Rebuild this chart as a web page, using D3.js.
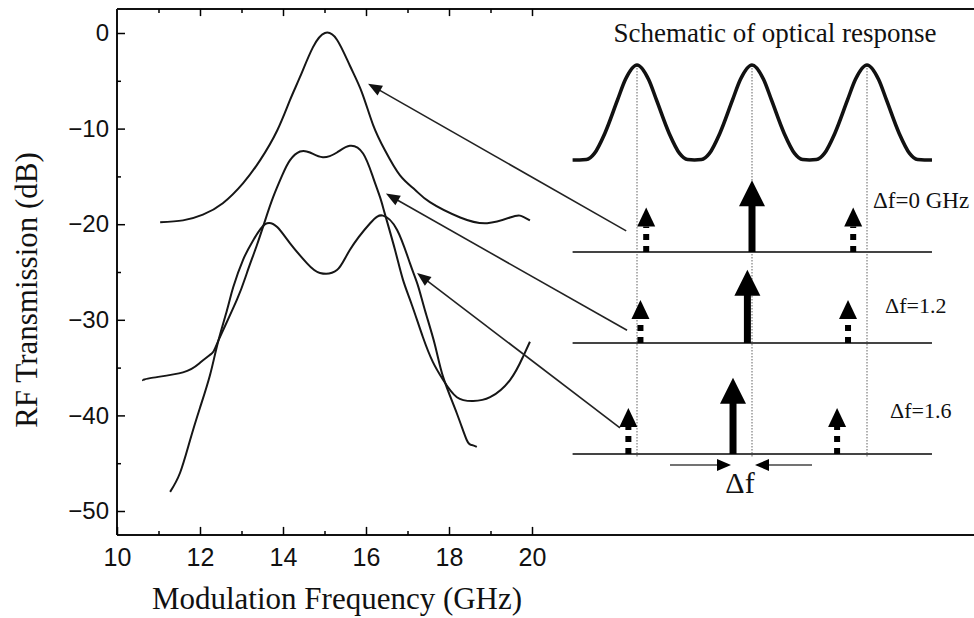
<!DOCTYPE html>
<html>
<head>
<meta charset="utf-8">
<script src="https://cdn.jsdelivr.net/npm/d3@7"></script>
<style>
    html, body { margin: 0; padding: 0; background: #fff; }
    svg { display: block; }
    .tick text { font-family: "Liberation Sans", Arial, sans-serif; fill: #111; }
    .serif { font-family: "Liberation Serif", "Times New Roman", serif; fill: #111; }
</style>
</head>
<body>
<div id="chart"></div>
<script>
// Measured RF transmission curves: [frequency GHz, dB]
const curveDf0 = [
    [11.04, -19.8], [11.59, -19.6], [12.07, -19.0], [12.55, -17.8], [13.04, -15.7],
    [13.45, -13.3], [13.86, -10.2], [14.17, -7.0], [14.41, -4.6], [14.72, -1.5],
    [15.01, 0], [15.30, -0.7], [15.61, -3.4], [15.90, -6.2], [16.17, -9.6],
    [16.46, -12.3], [16.82, -14.9], [17.18, -16.4], [17.54, -17.7], [18.27, -19.3],
    [18.92, -19.9], [19.47, -19.3], [19.71, -19.1], [19.95, -19.6]
];
const curveDf12 = [
    [10.63, -36.4], [10.80, -36.1], [11.59, -35.5], [12.00, -34.5], [12.29, -33.5],
    [12.43, -32.3], [12.89, -27.9], [13.13, -25.1], [13.37, -22.2], [13.57, -19.6],
    [13.76, -17.2], [13.98, -14.9], [14.17, -13.3], [14.41, -12.4], [14.65, -12.5],
    [14.96, -13.0], [15.30, -12.5], [15.61, -11.8], [15.93, -12.6], [16.17, -15.1],
    [16.34, -17.2], [16.46, -19.0], [16.70, -22.7], [16.89, -25.8], [17.11, -28.5],
    [17.37, -31.8], [17.61, -34.4], [17.86, -36.3], [18.19, -38.1], [18.58, -38.5],
    [18.99, -38.1], [19.47, -36.3], [19.78, -33.9], [19.95, -32.3]
];
const curveDf16 = [
    [11.28, -48.0], [11.52, -46.0], [11.76, -42.6], [12.00, -39.2], [12.24, -35.8],
    [12.43, -32.4], [12.65, -29.0], [12.80, -26.6], [13.04, -23.7], [13.28, -21.7],
    [13.57, -20.0], [13.86, -20.3], [14.17, -22.0], [14.58, -24.1], [14.89, -25.1],
    [15.30, -24.8], [15.61, -22.7], [16.10, -19.9], [16.41, -19.1], [16.75, -20.6],
    [17.06, -24.1], [17.25, -26.4], [17.42, -29.0], [17.66, -32.6], [17.86, -36.0],
    [18.19, -39.8], [18.43, -42.6], [18.55, -43.1], [18.67, -43.3]
];

const xTicks = [10, 12, 14, 16, 18, 20];
const xMinorTicks = [11, 13, 15, 17, 19];
const yTicks = [0, -10, -20, -30, -40, -50];
const yMinorTicks = [-5, -15, -25, -35, -45];
const yExtent = [2.5, -52.5];

// Pointer arrows from the schematic rows to the curves: [tailF, tailDb, tipF, tipDb]
const pointers = [
    [22.27, -20.7, 16.05, -5.3],
    [22.29, -31.1, 16.48, -16.8],
    [22.12, -41.3, 17.23, -25.1]
];

// Schematic (units of one filter period)
const filterPeaks = [-1, 0, 1];
const peakProfile = [[-0.5, 0], [-0.44, 0.005], [-0.37, 0.07], [-0.28, 0.28], [-0.17, 0.63],
                     [-0.1, 0.85], [0, 1], [0.1, 0.85], [0.17, 0.63], [0.28, 0.28],
                     [0.37, 0.07], [0.44, 0.005], [0.5, 0]];
const responseSpan = [-1.56, 1.565];
const rowLabels = ["\u0394f=0 GHz", "\u0394f=1.2", "\u0394f=1.6"];
const carrierPos = [0, -0.04, -0.165];
const sidebandPos = [[-0.92, 0.88], [-0.97, 0.835], [-1.075, 0.74]];
const carrierAmp = [0.97, 0.99, 1.03];
const sidebandAmp = [0.6, 0.58, 0.62];

const width = 974, height = 618;
const svg = d3.select("#chart").append("svg")
    .attr("width", width).attr("height", height);

const x = d3.scaleLinear().domain([10, 20]).range([117, 532]);
const y = d3.scaleLinear().domain([0, -50]).range([33, 511]);

const yTop = y(yExtent[0]), yBot = y(yExtent[1]);

// frame
svg.append("line").attr("x1", x(10)).attr("x2", width).attr("y1", yTop).attr("y2", yTop)
    .attr("stroke", "#111").attr("stroke-width", 2);
svg.append("line").attr("x1", x(10)).attr("x2", width).attr("y1", yBot).attr("y2", yBot)
    .attr("stroke", "#111").attr("stroke-width", 2);
svg.append("line").attr("x1", x(10)).attr("x2", x(10)).attr("y1", yTop).attr("y2", yBot)
    .attr("stroke", "#111").attr("stroke-width", 2);

const fmt = d3.format("d");

// bottom axis
const gx = svg.append("g").attr("transform", `translate(0,${yBot})`)
    .call(d3.axisBottom(x).tickValues(xTicks).tickSize(-8).tickPadding(13).tickFormat(fmt));
gx.select(".domain").remove();
gx.selectAll("line").attr("stroke-width", 1.5);
gx.selectAll("text").style("font-size", "25px");
const gxm = svg.append("g").attr("transform", `translate(0,${yBot})`)
    .call(d3.axisBottom(x).tickValues(xMinorTicks).tickSize(-4).tickFormat(""));
gxm.select(".domain").remove();
gxm.selectAll("line").attr("stroke-width", 1.5);

// top axis (ticks only)
const gt = svg.append("g").attr("transform", `translate(0,${yTop})`)
    .call(d3.axisTop(x).tickValues(xTicks.slice(1)).tickSize(-7).tickFormat(""));
gt.select(".domain").remove();
gt.selectAll("line").attr("stroke-width", 1.5);
const gtm = svg.append("g").attr("transform", `translate(0,${yTop})`)
    .call(d3.axisTop(x).tickValues(xMinorTicks).tickSize(-4).tickFormat(""));
gtm.select(".domain").remove();
gtm.selectAll("line").attr("stroke-width", 1.5);

// left axis
const gy = svg.append("g").attr("transform", `translate(${x(10)},0)`)
    .call(d3.axisLeft(y).tickValues(yTicks).tickSize(-8).tickPadding(8).tickFormat(fmt));
gy.select(".domain").remove();
gy.selectAll("line").attr("stroke-width", 1.5);
gy.selectAll("text").style("font-size", "24px");
const gym = svg.append("g").attr("transform", `translate(${x(10)},0)`)
    .call(d3.axisLeft(y).tickValues(yMinorTicks).tickSize(-4).tickFormat(""));
gym.select(".domain").remove();
gym.selectAll("line").attr("stroke-width", 1.5);

// axis titles
svg.append("text").attr("class", "serif")
    .attr("x", 337).attr("y", 609).attr("text-anchor", "middle")
    .style("font-size", "31px").text("Modulation Frequency (GHz)");
svg.append("text").attr("class", "serif")
    .attr("transform", "translate(37,290) rotate(-90)").attr("text-anchor", "middle")
    .style("font-size", "31px").text("RF Transmission (dB)");

// curves
const line = d3.line()
    .x(d => x(d[0])).y(d => y(d[1]))
    .curve(d3.curveNatural);
[curveDf0, curveDf12, curveDf16].forEach(c => {
    svg.append("path").attr("d", line(c))
        .attr("fill", "none").attr("stroke", "#161616").attr("stroke-width", 2);
});

function arrowHead(g, x1, y1, x2, y2, len, wid, color) {
    const a = Math.atan2(y2 - y1, x2 - x1);
    const bx = x2 - len * Math.cos(a), by = y2 - len * Math.sin(a);
    const px = -Math.sin(a) * wid / 2, py = Math.cos(a) * wid / 2;
    g.append("path")
        .attr("d", `M${x2},${y2}L${bx + px},${by + py}L${bx - px},${by - py}Z`)
        .attr("fill", color);
}

// pointer arrows
pointers.forEach(p => {
    const x1 = x(p[0]), y1 = y(p[1]), x2 = x(p[2]), y2 = y(p[3]);
    const a = Math.atan2(y2 - y1, x2 - x1);
    svg.append("line").attr("x1", x1).attr("y1", y1)
        .attr("x2", x2 - 10 * Math.cos(a)).attr("y2", y2 - 10 * Math.sin(a))
        .attr("stroke", "#222").attr("stroke-width", 1.6);
    arrowHead(svg, x1, y1, x2, y2, 14, 11, "#111");
});

// ---- schematic ----
const sx = d3.scaleLinear().domain([-1, 1]).range([637, 867]);
const ry = d3.scaleLinear().domain([0, 1]).range([160, 65]);
const rowBase = [252, 343, 454];
const amp = d3.scaleLinear().domain([0, 1]).range([0, 74]);

svg.append("text").attr("class", "serif")
    .attr("x", 775).attr("y", 42).attr("text-anchor", "middle")
    .style("font-size", "27px").text("Schematic of optical response");

// dotted guides through the filter peaks
filterPeaks.forEach(p => {
    svg.append("line").attr("x1", sx(p)).attr("x2", sx(p))
        .attr("y1", ry(1)).attr("y2", 457)
        .attr("stroke", "#888").attr("stroke-width", 1.3).attr("stroke-dasharray", "1.5,1.5");
});

// filter response
const respPts = [[responseSpan[0], 0]];
filterPeaks.forEach(p => peakProfile.forEach(q => respPts.push([p + q[0], q[1]])));
respPts.push([responseSpan[1], 0]);
svg.append("path")
    .attr("d", d3.line().x(d => sx(d[0])).y(d => ry(d[1])).curve(d3.curveMonotoneX)(respPts))
    .attr("fill", "none").attr("stroke", "#111").attr("stroke-width", 3.6);

rowBase.forEach((b, i) => {
    svg.append("line").attr("x1", sx(responseSpan[0])).attr("x2", sx(responseSpan[1]))
        .attr("y1", b).attr("y2", b).attr("stroke", "#444").attr("stroke-width", 2.2);

    // carrier
    const cx = sx(carrierPos[i]), tip = b - amp(carrierAmp[i]);
    svg.append("line").attr("x1", cx).attr("x2", cx).attr("y1", b).attr("y2", tip + 24)
        .attr("stroke", "#000").attr("stroke-width", 7);
    svg.append("path")
        .attr("d", `M${cx},${tip}L${cx - 13},${tip + 26}L${cx + 13},${tip + 26}Z`)
        .attr("fill", "#000");

    // sidebands
    sidebandPos[i].forEach(s => {
        const sxp = sx(s), st = b - amp(sidebandAmp[i]);
        svg.append("line").attr("x1", sxp).attr("x2", sxp).attr("y1", b).attr("y2", st + 19)
            .attr("stroke", "#000").attr("stroke-width", 6).attr("stroke-dasharray", "6,6");
        svg.append("path")
            .attr("d", `M${sxp},${st}L${sxp - 9},${st + 19}L${sxp + 9},${st + 19}Z`)
            .attr("fill", "#000");
    });
});

// row labels
const labelPos = [[873, 208, 23], [885, 313, 22], [890, 418, 22]];
rowLabels.forEach((t, i) => {
    svg.append("text").attr("class", "serif")
        .attr("x", labelPos[i][0]).attr("y", labelPos[i][1])
        .style("font-size", labelPos[i][2] + "px").text(t);
});

// delta-f marker
const dfY = 465;
const dfL = sx(carrierPos[2]), dfR = sx(carrierPos[0]);
svg.append("line").attr("x1", 670).attr("x2", dfL - 12).attr("y1", dfY).attr("y2", dfY)
    .attr("stroke", "#444").attr("stroke-width", 1.6);
arrowHead(svg, 670, dfY, dfL - 2, dfY, 14, 12, "#000");
svg.append("line").attr("x1", 812).attr("x2", dfR + 12).attr("y1", dfY).attr("y2", dfY)
    .attr("stroke", "#444").attr("stroke-width", 1.6);
arrowHead(svg, 812, dfY, dfR + 3, dfY, 14, 12, "#000");
svg.append("text").attr("class", "serif")
    .attr("x", 740).attr("y", 493).attr("text-anchor", "middle")
    .style("font-size", "30px").text("\u0394f");
</script>
</body>
</html>
